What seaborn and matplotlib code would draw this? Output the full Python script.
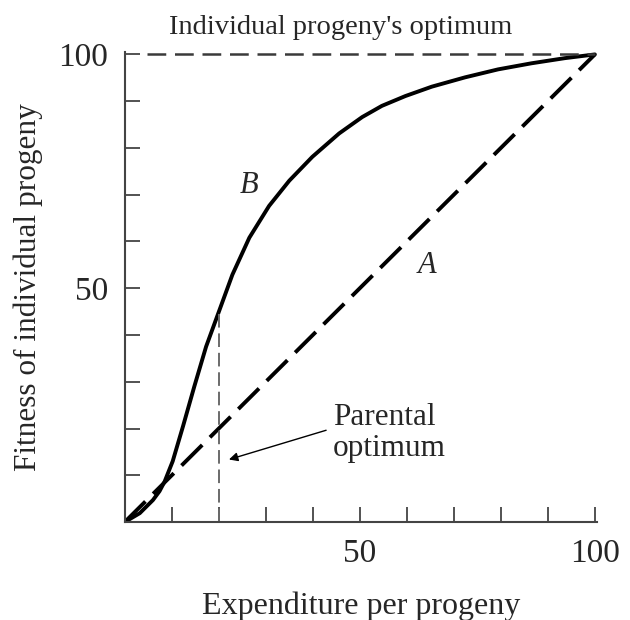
import matplotlib
matplotlib.use("Agg")
import matplotlib.pyplot as plt
import seaborn as sns
import pandas as pd

# ---- data ----
curve_b_x = [0, 3.2, 6.0, 7.4, 8.5, 10.2, 12.4, 14.8, 17.3, 20.1, 22.9, 26.5,
             30.7, 35.0, 39.9, 45.6, 50.5, 54.7, 59.7, 65.3, 72.4, 79.4,
             86.5, 93.6, 100]
curve_b_y = [0, 1.9, 4.7, 6.6, 8.7, 13.0, 20.5, 29.0, 37.5, 45.2, 52.9, 60.8,
             67.6, 73.0, 78.1, 83.1, 86.6, 89.0, 91.1, 93.1, 95.1, 96.8,
             98.1, 99.2, 100]
line_a_x = [0, 100]
line_a_y = [0, 100]
parental_x = [20.1, 20.1]
parental_y = [0, 45.2]
top_x = [4.7, 100]
top_y = [100, 100]
tick_positions = [10, 20, 30, 40, 50, 60, 70, 80, 90, 100]
tick_labels = ["", "", "", "", "50", "", "", "", "", "100"]

sns.set_style("ticks")
plt.rcParams["font.family"] = ["Liberation Serif", "DejaVu Serif"]

fig = plt.figure(figsize=(6.3, 6.2), dpi=100)
ax = fig.add_axes([0.198, 0.158, 0.75, 0.758])

df_b = pd.DataFrame({"x": curve_b_x, "y": curve_b_y})
df_a = pd.DataFrame({"x": line_a_x, "y": line_a_y})

sns.lineplot(data=df_a, x="x", y="y", ax=ax, color="black", linewidth=2.8,
             sort=False, estimator=None)
ax.lines[-1].set_dashes([7.5, 2.8])
sns.lineplot(data=df_b, x="x", y="y", ax=ax, color="black", linewidth=2.8,
             sort=False, estimator=None)
ax.lines[-1].set_solid_joinstyle("round")
sns.lineplot(x=parental_x, y=parental_y, ax=ax, color="#6a6a6a", linewidth=1.4,
             sort=False, estimator=None)
ax.lines[-1].set_dashes([7, 3])
sns.lineplot(x=top_x, y=top_y, ax=ax, color="#3a3a3a", linewidth=1.8,
             sort=False, estimator=None)
ax.lines[-1].set_dashes([7.5, 3.5])

ax.set_xlim(0, 100.5)
ax.set_ylim(0, 100.5)
ax.set_xticks(tick_positions)
ax.set_xticklabels(tick_labels)
ax.set_yticks(tick_positions)
ax.set_yticklabels(tick_labels)
ax.tick_params(direction="in", length=11, width=1.3, color="#444444",
               labelsize=24, pad=12)
for s in ["top", "right"]:
    ax.spines[s].set_visible(False)
for s in ["left", "bottom"]:
    ax.spines[s].set_color("#444444")
    ax.spines[s].set_linewidth(1.5)

ax.set_xlabel("Expenditure per progeny", fontsize=23, labelpad=16)
ax.set_ylabel("Fitness of individual progeny", fontsize=22.5, labelpad=11)

ax.text(46, 105.8, "Individual progeny's optimum", fontsize=20.5, ha="center",
        va="center", clip_on=False)
ax.text(26.5, 72, "B", fontsize=22, style="italic", ha="center", va="center")
ax.text(64.2, 54.8, "A", fontsize=22, style="italic", ha="center", va="center")
ax.text(44.3, 19.0, "Parental\noptimum", fontsize=22.5, ha="left", va="center",
        linespacing=1.1)
ax.annotate("", xy=(21.6, 13.2), xytext=(43.4, 19.8),
            arrowprops=dict(arrowstyle="-|>", color="black", lw=1.0,
                            mutation_scale=13))

fig.savefig("out.png", dpi=100)
